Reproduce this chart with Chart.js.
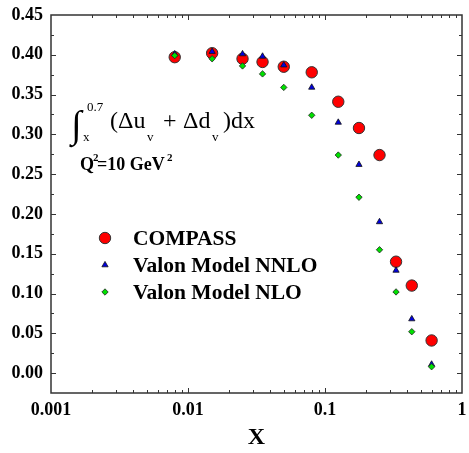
<!DOCTYPE html>
<html>
<head>
<meta charset="utf-8">
<script src="https://cdn.jsdelivr.net/npm/chart.js@4.4.1/dist/chart.umd.min.js"></script>
<style>
  html, body { margin: 0; padding: 0; background: #fff; }
  #wrap { width: 469px; height: 453px; }
</style>
</head>
<body>
<div id="wrap"><canvas id="chart" width="469" height="453"></canvas></div>
<script>
// data
const xValues = [0.008, 0.015, 0.025, 0.035, 0.05, 0.08, 0.125, 0.177, 0.25, 0.33, 0.43, 0.6];
const compass = [0.397, 0.402, 0.395, 0.391, 0.385, 0.378, 0.341, 0.308, 0.274, 0.140, 0.110, 0.041];
const nnlo    = [0.401, 0.404, 0.401, 0.398, 0.387, 0.359, 0.315, 0.262, 0.190, 0.129, 0.068, 0.011];
const nlo     = [0.399, 0.395, 0.386, 0.376, 0.359, 0.324, 0.274, 0.221, 0.155, 0.102, 0.052, 0.008];
const seriesNames = ["COMPASS", "Valon Model NNLO", "Valon Model NLO"];
const xTicks = [0.001, 0.01, 0.1, 1];
const yTicks = [0, 0.05, 0.10, 0.15, 0.20, 0.25, 0.30, 0.35, 0.40, 0.45];

const serif = "'Liberation Serif', 'Times New Roman', serif";

function toPoints(ys) {
    return xValues.map((x, i) => ({ x: x, y: ys[i] }));
}

const styles = [
    { pointStyle: "circle", radius: 5.7, backgroundColor: "#ff0000", borderColor: "#333", borderWidth: 1 },
    { pointStyle: "triangle", radius: 3.6, backgroundColor: "#0000e0", borderColor: "#111", borderWidth: 0.8 },
    { pointStyle: "rectRot", radius: 3.2, backgroundColor: "#00e000", borderColor: "#222", borderWidth: 0.8 }
];

// frame, inward ticks, annotations and legend
const framePlugin = {
    id: "frame",
    afterDraw(chart) {
        const ctx = chart.ctx;
        const a = chart.chartArea;
        const xs = chart.scales.x, ys = chart.scales.y;
        ctx.save();
        ctx.strokeStyle = "#333";
        ctx.lineWidth = 1.5;
        ctx.strokeRect(a.left, a.top, a.right - a.left, a.bottom - a.top);

        ctx.lineWidth = 1;
        ctx.beginPath();
        for (let k = -1; k <= 18; k++) {
            const py = Math.round(ys.getPixelForValue(k * 0.025)) + 0.5;
            if (py < a.top + 1 || py > a.bottom - 1) continue;
            const len = k % 2 === 0 ? 5 : 3;
            ctx.moveTo(a.left, py); ctx.lineTo(a.left + len, py);
            ctx.moveTo(a.right, py); ctx.lineTo(a.right - len, py);
        }
        [0.001, 0.01, 0.1].forEach(d => {
            for (let m = 1; m <= 9; m++) {
                const px = Math.round(xs.getPixelForValue(m * d)) + 0.5;
                if (px < a.left + 1 || px > a.right - 1) continue;
                const len = m === 1 ? 5 : 3;
                ctx.moveTo(px, a.bottom); ctx.lineTo(px, a.bottom - len);
                ctx.moveTo(px, a.top); ctx.lineTo(px, a.top + len);
            }
        });
        ctx.stroke();

        // integral expression
        ctx.fillStyle = "#000";
        ctx.textBaseline = "alphabetic";
        ctx.font = "38px " + serif;
        ctx.fillText("\u222B", 71, 137);
        ctx.font = "13px " + serif;
        ctx.fillText("0.7", 87, 111);
        ctx.fillText("x", 83, 141);
        ctx.font = "24px " + serif;
        ctx.fillText("(\u0394u", 110, 128);
        ctx.fillText("+", 163, 128);
        ctx.fillText("\u0394d", 183, 128);
        ctx.fillText(")dx", 223, 128);
        ctx.font = "13px " + serif;
        ctx.fillText("v", 147, 141);
        ctx.fillText("v", 212, 141);

        ctx.font = "bold 18px " + serif;
        ctx.fillText("Q", 80, 170);
        ctx.fillText("=10 GeV", 97, 170);
        ctx.font = "bold 11px " + serif;
        ctx.fillText("2", 93, 161);
        ctx.fillText("2", 167, 161);

        // legend
        const rows = [238, 265, 292];
        rows.forEach((ry, i) => {
            const st = styles[i];
            ctx.fillStyle = st.backgroundColor;
            ctx.strokeStyle = st.borderColor;
            ctx.lineWidth = st.borderWidth;
            Chart.helpers.drawPoint(ctx, { pointStyle: st.pointStyle, radius: st.radius, rotation: 0, borderWidth: st.borderWidth }, 105, ry);
            ctx.fillStyle = "#000";
            ctx.font = "bold 21.5px " + serif;
            ctx.textBaseline = "middle";
            ctx.fillText(seriesNames[i], 133, ry + 1);
        });
        ctx.restore();
    }
};

const tickFont = { family: serif, size: 18, weight: "bold" };

new Chart(document.getElementById("chart"), {
    type: "scatter",
    data: {
        datasets: [
            { label: seriesNames[0], data: toPoints(compass), order: 3, ...styles[0], pointRadius: styles[0].radius },
            { label: seriesNames[1], data: toPoints(nnlo), order: 2, ...styles[1], pointRadius: styles[1].radius },
            { label: seriesNames[2], data: toPoints(nlo), order: 1, ...styles[2], pointRadius: styles[2].radius }
        ]
    },
    options: {
        responsive: false,
        animation: false,
        layout: { padding: { top: 15, right: 7, left: 0, bottom: 0 } },
        plugins: {
            legend: { display: false },
            tooltip: { enabled: false }
        },
        scales: {
            x: {
                type: "logarithmic",
                min: 0.001,
                max: 1,
                border: { display: false },
                grid: { display: false, drawTicks: false },
                afterBuildTicks: s => { s.ticks = xTicks.map(v => ({ value: v })); },
                afterFit: s => { s.height = 60; s.paddingLeft = 0; s.paddingRight = 0; },
                ticks: {
                    autoSkip: false,
                    maxRotation: 0,
                    padding: 7,
                    color: "#000",
                    font: tickFont,
                    callback: v => String(v)
                },
                title: {
                    display: true,
                    text: "X",
                    color: "#000",
                    font: { family: serif, size: 24, weight: "bold" },
                    padding: { top: 0, bottom: 1 }
                }
            },
            y: {
                min: -0.025,
                max: 0.45,
                border: { display: false },
                grid: { display: false, drawTicks: false },
                afterBuildTicks: s => { s.ticks = yTicks.map(v => ({ value: v })); },
                afterFit: s => { s.width = 51; s.paddingTop = 0; s.paddingBottom = 0; },
                ticks: {
                    padding: 8,
                    color: "#000",
                    font: tickFont,
                    callback: v => v.toFixed(2)
                }
            }
        }
    },
    plugins: [framePlugin]
});
</script>
</body>
</html>
